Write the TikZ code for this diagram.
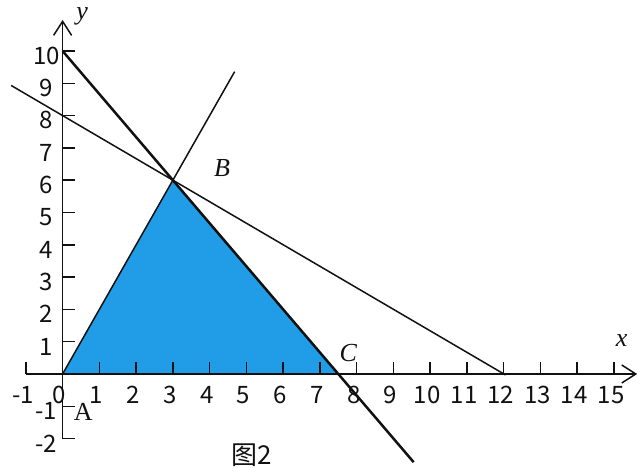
\documentclass[tikz,border=0pt]{standalone}
\usepackage{fontspec}
\setmainfont{Liberation Serif}
\newfontfamily\labfont{Noto Sans CJK SC}
\usetikzlibrary{arrows.meta,calc}
\usepackage{xcolor}
\definecolor{region}{HTML}{209DE6}
\definecolor{ink}{HTML}{111111}
\tikzset{
  axisline/.style={draw=ink,line width=0.75pt,-{Straight Barb[length=7pt,width=9pt,line width=0.75pt]}},
  tickmark/.style={draw=ink,line width=0.75pt},
  ticklab/.style={font=\labfont\fontsize{12}{12}\selectfont,text=ink,inner sep=0pt},
  thinline/.style={draw=ink,line width=0.75pt},
  boldline/.style={draw=ink,line width=1.25pt},
  feasible/.style={fill=region,draw=none},
  ptlab/.style={font=\fontsize{13}{13}\selectfont\itshape,text=ink,inner sep=0pt},
  caption/.style={font=\labfont\fontsize{13}{13}\selectfont,text=ink,inner sep=0pt}
}
\begin{document}
\begin{tikzpicture}[x=18.38pt,y=16.15pt]
\useasboundingbox (-1.703,-2.910) rectangle (15.653,11.579);
% corner points and line ends
\coordinate (A) at (0,0);
\coordinate (B) at (3,6);
\coordinate (C) at (7.5,0);
\coordinate (y10) at (0,10);
\coordinate (y8) at (0,8);
\coordinate (endC) at (9.55,-2.73);
\coordinate (endL) at (-1.4,8.933);
\coordinate (endR) at (12.05,-0.03);
\coordinate (endB) at (4.68,9.36);
\coordinate (xs) at (-1,0);
\coordinate (xe) at (15.63,0);
\coordinate (ys) at (0,-2);
\coordinate (ye) at (0,10.96);

% shaded region
\fill[feasible] (A) -- (B) -- (C) -- cycle;

% axes
\draw[axisline] (xs) -- (xe);
\draw[axisline] (ys) -- (ye);
\foreach \i in {-1,1,2,...,15} {
  \draw[tickmark] (\i,0) -- ++(0,6pt);
}
\foreach \i in {-1,0,1,2,...,15} {
  \node[ticklab] (xl\i) at (\i-0.08,-0.65) {\i};
}
\foreach \j in {-2,-1,1,2,...,10} {
  \draw[tickmark] (0,\j) -- ++(6pt,0);
  \node[ticklab] (yl\j) at (-0.44,\j-0.15) {\j};
}

% boundary lines
\draw[boldline] (y10) -- (B) -- (C) -- (endC);
\draw[thinline] (endL) -- (y8) -- (B) -- (endR);
\draw[thinline] (A) -- (B) -- (endB);

% labels
\node[ptlab] (xlab) at (15.21,1.05) {x};
\node[ptlab] (ylab) at (0.53,11.08) {y};
\node[ptlab] (Blab) at (4.34,6.38) {B};
\node[ptlab] (Clab) at (7.77,0.65) {C};
\node[font=\fontsize{13}{13}\selectfont,text=ink,inner sep=0pt] (Alab) at (0.56,-1.18) {A};
\node[caption] (fig) at (5.15,-2.51) {图2};
\end{tikzpicture}
\end{document}
